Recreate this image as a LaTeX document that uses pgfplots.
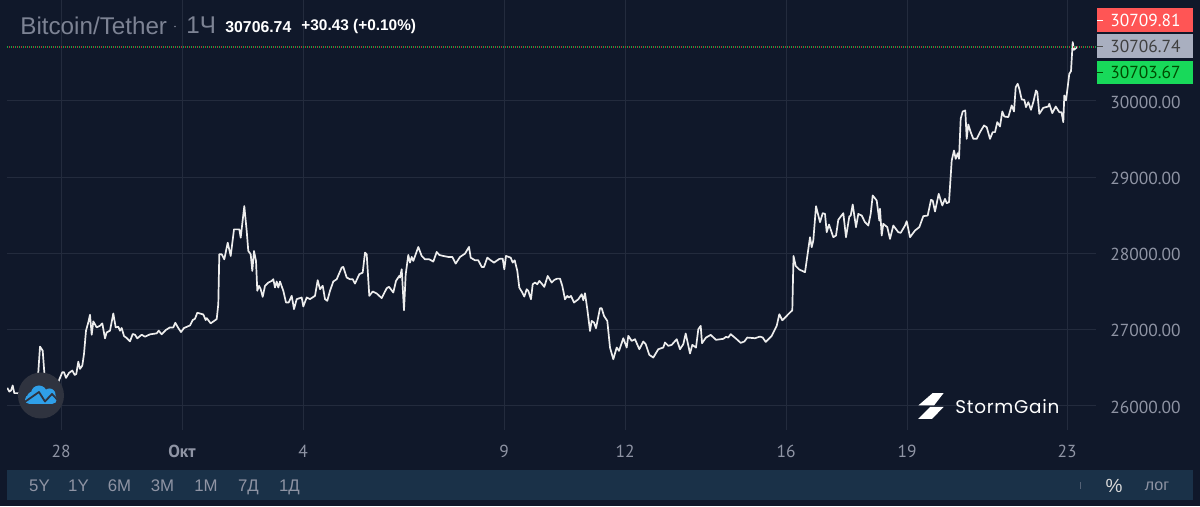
\documentclass[border=0pt]{standalone}
\usepackage{fontspec}
\setmainfont{Liberation Sans}
\newfontfamily\ptf{PT Sans}
\newfontfamily\pop{Poppins}[LetterSpace=4]
\usepackage{pgfplots}
\pgfplotsset{compat=1.18}

\definecolor{bgc}{HTML}{10182A}
\definecolor{barc}{HTML}{1A3148}
\definecolor{gridc}{HTML}{232B3D}
\definecolor{labc}{HTML}{8F94A4}
\definecolor{titlec}{HTML}{7D8394}
\definecolor{upc}{HTML}{FF5555}
\definecolor{midc}{HTML}{A9AFC0}
\definecolor{dnc}{HTML}{18D95A}
\definecolor{logoc}{HTML}{2F333F}
\definecolor{bluec}{HTML}{2F9FE8}

% price by chart position (ticks below give the dates)
\pgfplotstableread{
x y
7.3 26235
9.3 26187
11 26200
12.7 26266
14.3 26166
17.3 26166
22 26160
26 26140
30 26190
34 26170
36 26200
38.3 26440
40 26776
42.7 26723
44.3 26440
46 26300
50 26230
54 26220
57 26270
59.3 26344
62.3 26440
64 26440
66 26366
69 26431
72.3 26462
74.7 26405
76.3 26418
78.3 26579
80 26484
82.3 26527
84 26680
86 26985
88.3 27094
90 27194
91.7 26932
93.3 27107
96.7 27028
100 27050
102.3 27081
105 26884
106.7 26963
110 26985
113.3 27211
115.7 27028
118.3 27037
120 26985
121.7 27020
124 26915
126.7 26889
130 26845
132.7 26941
135 26932
137.3 26884
141.7 26932
145 26906
150 26937
156.7 26950
158.7 26985
161.7 26937
165.7 26993
170 27028
173.3 27028
175.3 27089
178.3 27020
181 26967
184 27020
190 27054
192.7 27124
195 27142
197.3 27220
203.3 27198
205.7 27124
206.7 27150
210.7 27081
216.7 27137
218.3 27333
219.3 27987
221.7 27987
224.3 27921
227.7 28139
230.7 27965
234 28314
239.3 28314
240.7 28205
244.3 28619
246.7 28292
248.3 28030
250.7 27987
252.3 27769
254 28030
256 27900
257.3 27508
259 27573
260.7 27529
262.7 27429
265 27573
268.3 27616
271.7 27638
273.3 27660
275 27551
276.7 27630
278.3 27551
280 27630
283.3 27508
286 27355
288.7 27355
291.7 27442
294 27268
296.7 27399
301.7 27420
303.3 27303
306.7 27420
310 27399
315 27442
317.7 27647
320 27529
322.7 27573
325 27399
327.3 27377
330 27508
333.3 27630
336.7 27660
341.7 27813
343.3 27821
346.7 27682
350 27660
352.7 27660
355 27603
359.3 27725
362.7 27747
365 28009
366.7 27987
369.3 27442
372.7 27499
376.7 27473
381.7 27412
386.7 27542
389 27560
393.3 27486
396 27638
399.3 27704
400 27681
401.7 27790
404 27253
405.7 27725
408.3 27978
410 27878
411.7 27952
413.3 27900
418.3 28083
421.7 27965
425 27921
429.3 27921
433.3 27891
436.7 28017
439.3 27978
443.3 27965
448.3 27952
452.3 27952
455.7 27865
460 27952
465 27996
469 28083
470.7 27943
475 27908
478.3 27908
481.7 27821
484 27821
487.3 27943
490.7 27908
494 27878
499.3 27926
502.7 27930
504.3 27790
506 27965
510.7 27943
512.7 27878
514.7 27908
517.3 27769
519.3 27550
522.3 27485
524.3 27432
526.7 27528
528.3 27507
531 27397
532.7 27594
535 27616
537.3 27594
539.3 27638
541.7 27603
544.3 27559
547.7 27703
551.7 27616
554.3 27651
557.3 27668
560 27668
562.3 27572
565 27397
567.3 27441
569 27419
571 27441
574 27354
578.3 27397
581.7 27463
583.3 27384
585 27476
587.3 27266
590 26982
591.7 27113
594 27092
596 27017
600 27279
601.7 27279
604 27179
607.3 27113
610 26764
613.3 26611
616.7 26764
619 26720
623.3 26886
626.7 26764
628.3 26917
631.7 26851
635 26873
639.3 26742
643.3 26843
645.7 26808
649.3 26668
653.3 26633
658.3 26742
663.3 26764
665 26830
668.3 26786
671.7 26799
676.7 26873
680 26742
683.3 26808
685.7 26948
690 26686
692.3 26799
696 26764
698.3 27004
700.7 27048
702 26821
706 26895
710.7 26930
716 26865
723.3 26878
726 26904
728.3 26895
730.7 26939
736.7 26873
740.7 26825
744.3 26843
747.3 26895
755 26886
760 26908
762.7 26895
765.7 26838
771.7 26917
776.7 27048
779.3 27201
782.3 27122
785.7 27166
788.3 27201
792.3 27253
793.5 27965
795.7 27834
799.3 27787
805 27752
810 28211
811.7 28080
813.3 28168
816 28618
820 28408
822.7 28526
825 28517
826.7 28277
829 28377
833.3 28211
836 28233
838.3 28439
843.3 28526
846 28211
849.3 28482
850.7 28495
852.7 28640
856 28343
858.3 28517
861.7 28495
865 28408
868.3 28364
870.7 28517
872.7 28758
876.7 28692
879.3 28430
880 28583
881.7 28233
883.3 28386
887.3 28343
890 28189
893.3 28364
898.3 28277
900.7 28268
905 28364
906.7 28421
910 28211
915 28299
919.3 28343
923.3 28487
927.7 28495
931 28701
932.7 28692
935 28548
938.7 28780
942.3 28627
945 28714
946.7 28657
949 28670
951.7 29217
954 29348
955.7 29239
957.7 29313
959 29239
960.7 29764
962.7 29860
965.3 29873
966.7 29501
968.3 29689
970.7 29589
973.3 29501
976.7 29501
980 29589
984 29676
986.7 29654
990 29501
992.7 29589
995 29589
997.3 29720
1000 29663
1002.3 29860
1004.3 29794
1008.3 29786
1011.7 29939
1014 29860
1015.7 30179
1017.7 30223
1019.3 30157
1021.7 30017
1024.3 30013
1026 29917
1028.3 29982
1031 29882
1033.3 29982
1036 30135
1037.3 30113
1039.3 29829
1043.3 29908
1048.3 29925
1049.3 29960
1052.3 29838
1055.7 29925
1059.3 29851
1061.5 29851
1063.3 29720
1064.3 30070
1066 30004
1069.3 30354
1071 30389
1072.7 30770
1074 30669
1077.3 30706.74
}\pricetable

\begin{document}
\begin{tikzpicture}[x=0.5pt,y=-0.5pt]
% page background, 1 unit = 1 px of the reference
\fill[bgc] (0,0) rectangle (1200,506);

\begin{axis}[
    at={(3.5pt,-215pt)},
    anchor=origin,
    scale only axis,
    width=544.5pt,
    height=215pt,
    xmin=7, xmax=1096,
    ymin=25676, ymax=31315.4,
    axis line style={draw=none},
    major tick length=0pt,
    grid=major,
    major grid style={gridc, line width=0.5pt},
    xtick={61,182,303,504,625,786,907,1067},
    xticklabels={28,\textbf{Окт},4,9,12,16,19,23},
    ytick={26000,27000,28000,29000,30000},
    axis y line*=right,
    axis x line*=bottom,
    scaled y ticks=false,
    /pgf/number format/fixed,
    /pgf/number format/fixed zerofill,
    /pgf/number format/precision=2,
    /pgf/number format/1000 sep={},
    /pgf/number format/assume math mode=true,
    x tick label style={font=\ptf\fontsize{8.7}{10}\selectfont, text=labc, anchor=center, yshift=-10.5pt, inner sep=0pt},
    y tick label style={font=\ptf\fontsize{8.7}{10}\selectfont, text=labc, anchor=west, xshift=7pt, yshift=-0.6pt, inner sep=0pt},
]
\addplot[white!93!black, line width=0.85pt, line join=round, no marks] table[x=x,y=y] {\pricetable};
% bid and ask dots over the last price
\addplot[dnc!75!black, line width=0.6pt, dash pattern=on 0.5pt off 1.5pt, no marks] coordinates {(7,30706.74) (1096,30706.74)};
\addplot[upc!65!black, line width=0.6pt, dash pattern=on 0.5pt off 1.5pt, dash phase=1pt, no marks] coordinates {(7,30706.74) (1096,30706.74)};
\end{axis}

% header
\node[anchor=west, inner sep=0pt, text=titlec, font=\fontsize{12.1}{14}\selectfont] at (20,25) {Bitcoin/Tether};
\fill[titlec] (175,26) circle (0.9);
\node[anchor=west, inner sep=0pt, text=titlec, font=\fontsize{12.1}{14}\selectfont] at (186,25) {1Ч};
\node[anchor=west, inner sep=0pt, text=white, font=\bfseries\fontsize{7.9}{10}\selectfont] at (225,26.5) {30706.74};
\node[anchor=west, inner sep=0pt, text=white, font=\bfseries\fontsize{7.7}{10}\selectfont] at (301,26.5) {+30.43 (+0.10\%)};

% price boxes
\fill[upc] (1097,8) rectangle (1193,32);
\fill[midc] (1097,34) rectangle (1193,58);
\fill[dnc] (1097,61) rectangle (1193,84);
\fill[white] (1097,19.5) rectangle (1103,20.5);
\fill[black!70] (1097,45.5) rectangle (1103,46.5);
\fill[black!70!green] (1097,71.5) rectangle (1103,72.5);
\node[anchor=west, inner sep=0pt, text=white, font=\ptf\fontsize{8.7}{10}\selectfont] at (1110,20) {30709.81};
\node[anchor=west, inner sep=0pt, text=black!75, font=\ptf\fontsize{8.7}{10}\selectfont] at (1110,46) {30706.74};
\node[anchor=west, inner sep=0pt, text=green!30!black, font=\ptf\fontsize{8.7}{10}\selectfont] at (1110,72) {30703.67};

% range bar
\fill[barc] (7,470) rectangle (1193,500);
\foreach \px/\txt in {39.5/5Y,78.5/1Y,119.5/6M,162.5/3M,206/1M,248.5/7Д,289.5/1Д}
  \node[anchor=base, inner sep=0pt, text=labc, font=\fontsize{8.4}{10}\selectfont] at (\px,491) {\txt};
\fill[labc!50!barc] (1079.5,482) rectangle (1080.5,489);
\node[anchor=base, inner sep=0pt, text=white!85!black, font=\fontsize{9.5}{10}\selectfont] at (1114,492) {\%};
\node[anchor=base, inner sep=0pt, text=labc, font=\fontsize{8}{10}\selectfont] at (1157,490.5) {лог};

% round logo
\fill[logoc] (41,395) circle (23);
\fill[bluec] (39,393) circle (8);
\fill[bluec] (49.5,394) circle (6);
\fill[bluec] (33,397) circle (6);
\fill[bluec] (52,398.5) circle (5);
\fill[bluec] (29.5,399) circle (4.5);
\fill[bluec] (29,399) rectangle (52,403.5);
\draw[logoc, line width=0.9pt, line join=round] (24,402) -- (39,391.5) -- (45,401) -- (52,393.5) -- (60,402);
\fill[logoc] (24,403.5) rectangle (60,406);

% StormGain mark
\fill[white] (932.5,392.7) -- (943.5,392.7) -- (934,405) -- (918.3,405) -- cycle;
\fill[white] (930,406.5) -- (943.5,406.5) -- (932,418.5) -- (918,418.5) -- cycle;
\node[anchor=west, inner sep=0pt, text=white, font=\pop\fontsize{9.2}{10}\selectfont] at (955,406) {StormGain};
\end{tikzpicture}
\end{document}
